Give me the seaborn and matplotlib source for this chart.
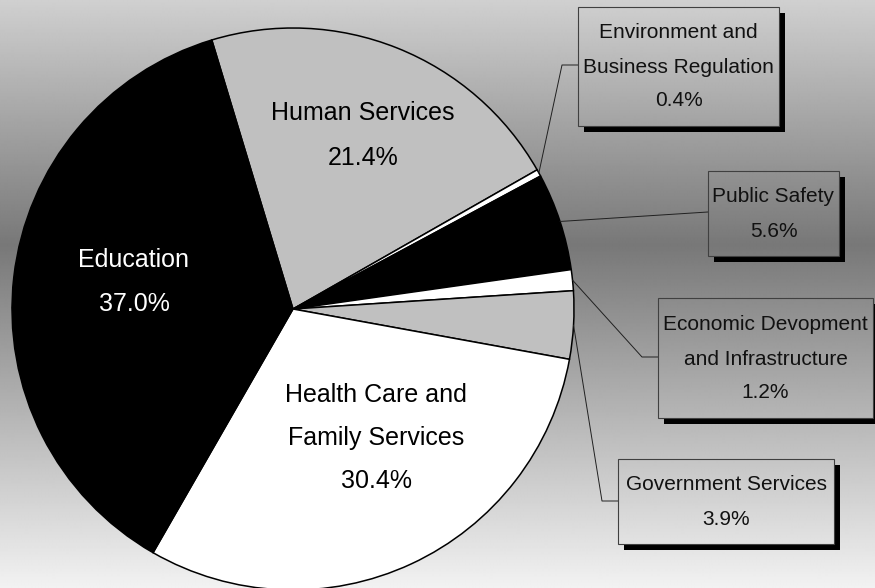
import numpy as np
import matplotlib
matplotlib.use("Agg")
import matplotlib.pyplot as plt
from matplotlib.patches import Polygon, Rectangle
import seaborn as sns

# Budget shares by program area (percent of total)
categories = [
    "Human Services",
    "Environment and\nBusiness Regulation",
    "Public Safety",
    "Economic Devopment\nand Infrastructure",
    "Government Services",
    "Health Care and\nFamily Services",
    "Education",
]
shares = [21.4, 0.4, 5.6, 1.2, 3.9, 30.4, 37.0]
wedge_colors = ["#c0c0c0", "#ffffff", "#000000", "#ffffff", "#c0c0c0", "#ffffff", "#000000"]

# Which slices get an inside label vs. a callout box
inside = ["Human Services", "Education", "Health Care and\nFamily Services"]

sns.set_theme(style="white")
plt.rcParams["font.family"] = ["Liberation Sans", "DejaVu Sans"]

W, H = 875, 588
fig = plt.figure(figsize=(W / 100, H / 100), dpi=100)
ax = fig.add_axes([0, 0, 1, 1])


def Y(y):
    # pixel row (top-down) -> data y (bottom-up)
    return H - y


# Vertical grey gradient backdrop
rows = np.arange(H)
grey = np.interp(rows, [0, 245, 400, 588], [208, 120, 176, 242]) / 255.0
grad = np.repeat(grey[:, None], 4, axis=1)
ax.imshow(grad, extent=(0, W, 0, H), cmap="gray", vmin=0, vmax=1,
          aspect="auto", origin="upper", zorder=0, interpolation="bilinear")

# Pie
cx, cy, R = 293, 309, 281
palette = sns.color_palette(wedge_colors)
wedges, _ = ax.pie(
    shares, colors=palette, startangle=106.8, counterclock=False,
    center=(cx, Y(cy)), radius=R,
    wedgeprops=dict(edgecolor="black", linewidth=1.1),
)
for w in wedges:
    w.set_zorder(2)

ax.set_xlim(0, W)
ax.set_ylim(0, H)
ax.set_aspect("equal")
ax.axis("off")

# Inside labels: centre x and baselines of each line (pixels)
inside_pos = {
    "Human Services": (363, [120, 165], "#000000"),
    "Education": (134, [267, 311], "#ffffff"),
    "Health Care and\nFamily Services": (376, [402, 445, 488], "#000000"),
}

# Callout boxes: left, top, right, bottom, baselines, leader elbow (or None)
box_layout = {
    "Environment and\nBusiness Regulation": ((578, 7, 779, 126), [38, 73, 106], (562, 65), 65),
    "Public Safety": ((708, 171, 839, 256), [202, 237], None, 212),
    "Economic Devopment\nand Infrastructure": ((658, 298, 873, 418), [330, 365, 398], (642, 357), 357),
    "Government Services": ((618, 459, 834, 544), [490, 525], (602, 501), 501),
}

for cat, val, w in zip(categories, shares, wedges):
    lines = cat.split("\n") + [f"{val:.1f}%"]
    if cat in inside_pos:
        x, bases, col = inside_pos[cat]
        for line, b in zip(lines, bases):
            ax.text(x, Y(b), line, ha="center", va="baseline", fontsize=18,
                    color=col, zorder=5)
        continue

    (l, t, r, b), bases, elbow, ly = box_layout[cat]
    # drop shadow (L-shaped strip offset down-right)
    d = 6
    shadow = Polygon(
        [(l + d, Y(b)), (r, Y(b)), (r, Y(t + d)), (r + d, Y(t + d)),
         (r + d, Y(b + d)), (l + d, Y(b + d))],
        closed=True, facecolor="black", edgecolor="none", zorder=3)
    ax.add_patch(shadow)
    ax.add_patch(Rectangle((l, Y(b)), r - l, b - t, facecolor="none",
                           edgecolor="#404040", linewidth=0.8, zorder=4))
    xc = (l + r) / 2
    for line, bl in zip(lines, bases):
        ax.text(xc, Y(bl), line, ha="center", va="baseline", fontsize=15,
                color="#111111", zorder=5)

    # leader line from the slice rim to the box
    mid = np.deg2rad((w.theta1 + w.theta2) / 2)
    ax_x = cx + R * np.cos(mid)
    ax_y = Y(cy) + R * np.sin(mid)
    xs, ys = [ax_x], [ax_y]
    if elbow is not None:
        xs.append(elbow[0])
        ys.append(Y(elbow[1]))
    xs.append(l)
    ys.append(Y(ly))
    ax.plot(xs, ys, color="#202020", linewidth=0.7, zorder=3)

fig.savefig("out.png", dpi=100)
